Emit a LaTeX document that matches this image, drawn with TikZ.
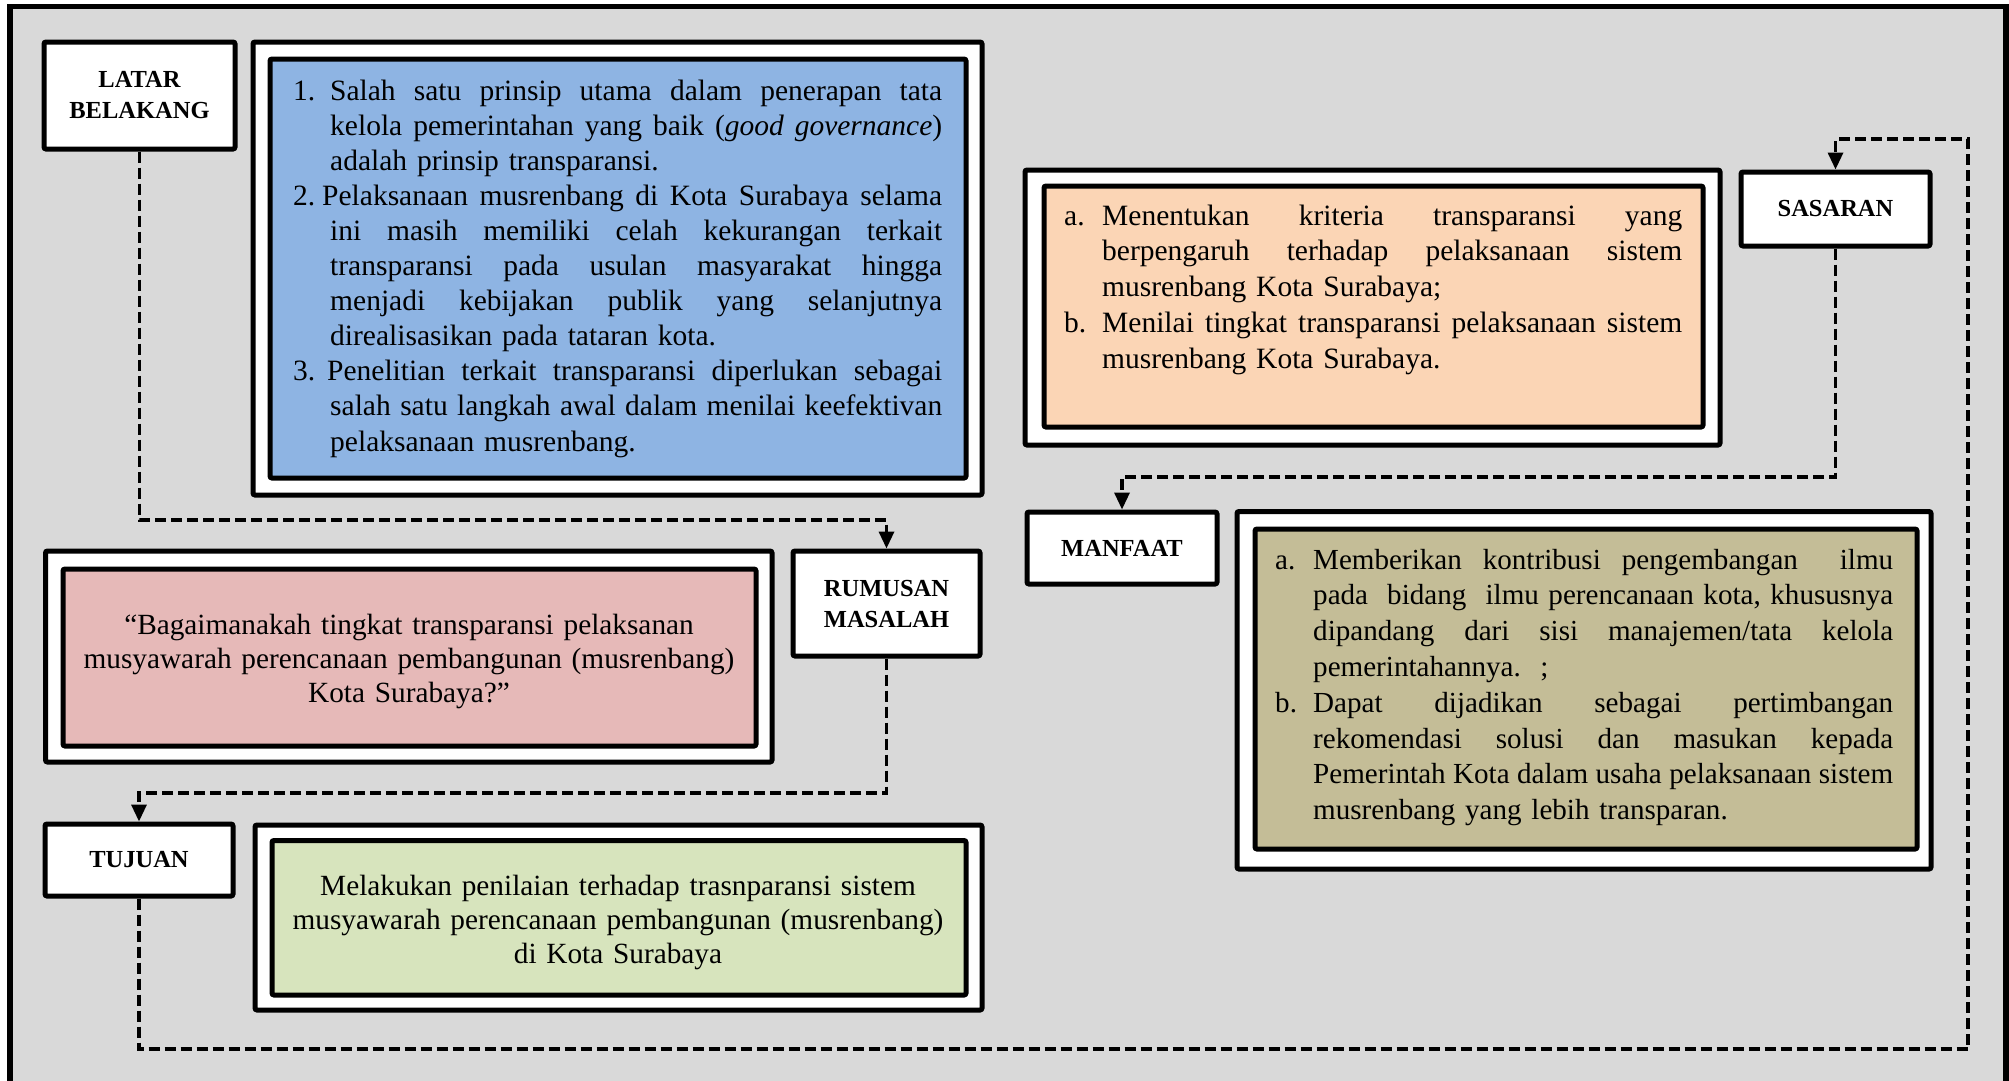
\documentclass[tikz,border=0pt]{standalone}
\usepackage{fontspec}
\setmainfont{Liberation Serif}
\usetikzlibrary{arrows.meta}

\definecolor{panelgray}{HTML}{D9D9D9}
\definecolor{fillblue}{HTML}{8EB4E3}
\definecolor{fillorange}{HTML}{FBD5B5}
\definecolor{fillpink}{HTML}{E6B9B8}
\definecolor{fillgreen}{HTML}{D7E4BD}
\definecolor{fillkhaki}{HTML}{C4BD97}

% width of one row of a list block
\newlength\roww
% a row of text spread to the given width (stretchable word spaces)
\newcommand\spreadrow[2]{\hbox to #1{\frenchspacing\spaceskip=.25em plus 1fil\relax #2}}
% justified line with a left indent of #1
\newcommand\jline[2]{\noindent\hspace*{#1}\spreadrow{\dimexpr\roww-#1\relax}{#2}\par}
% last (natural width) line of an item
\newcommand\lline[2]{\noindent\hspace*{#1}#2\par}
% first line of an item: label box of width #1, label #2, justified text #3
\newcommand\iline[3]{\noindent\hbox to #1{#2\hss}\spreadrow{\dimexpr\roww-#1\relax}{#3}\par}

\begin{document}
\begin{tikzpicture}[x=1pt,y=-1pt,
  lbl/.style={draw, line width=5pt, fill=white, rounded corners=2pt, inner sep=0pt,
    align=center, font=\bfseries\fontsize{24.5}{31}\selectfont},
  outerbox/.style={draw, line width=5pt, fill=white, rounded corners=2pt,
    inner sep=0pt, outer sep=0pt, anchor=north west},
  innerbox/.style={draw, line width=5pt, rounded corners=2pt,
    inner sep=0pt, outer sep=0pt, anchor=north west},
  listtext/.style={inner sep=0pt, anchor=base west, align=left},
  centertext/.style={inner sep=0pt, anchor=base, align=center,
    font=\fontsize{29.3}{34}\selectfont},
  flow/.style={line width=3.3pt, dash pattern=on 11pt off 5pt,
    -{Triangle[length=17pt,width=15pt]}}
]
\useasboundingbox (0,0) rectangle (2009,1080);

% panel
\begin{scope}
  \clip (0,0) rectangle (2009,1080);
  \draw[line width=5.5pt, fill=panelgray] (10,6.5) rectangle (2006,1110);
\end{scope}

% ---------- LATAR BELAKANG ----------
\node[lbl, minimum width=191pt, minimum height=107pt] (latar) at (139.5,95.5) {LATAR\\BELAKANG};
\node[outerbox, minimum width=729pt, minimum height=453pt, fill=white] (bluebox) at (253,42) {};
\node[innerbox, minimum width=696pt, minimum height=419pt, fill=fillblue] (blueinner) at (270,59) {};
\node[listtext, text width=649pt, font=\fontsize{29.5}{35.1}\selectfont] (bluetext) at (293,100) {%
  \setlength\roww{649pt}%
  \iline{37pt}{1.}{Salah satu prinsip utama dalam penerapan tata}
  \jline{37pt}{kelola pemerintahan yang baik (\textit{good governance})}
  \lline{37pt}{adalah prinsip transparansi.}
  \iline{29pt}{2.}{Pelaksanaan musrenbang di Kota Surabaya selama}
  \jline{37pt}{ini masih memiliki celah kekurangan terkait}
  \jline{37pt}{transparansi pada usulan masyarakat hingga}
  \jline{37pt}{menjadi kebijakan publik yang selanjutnya}
  \lline{37pt}{direalisasikan pada tataran kota.}
  \iline{34pt}{3.}{Penelitian terkait transparansi diperlukan sebagai}
  \jline{37pt}{salah satu langkah awal dalam menilai keefektivan}
  \lline{37pt}{pelaksanaan musrenbang.}};

% ---------- RUMUSAN MASALAH ----------
\node[lbl, minimum width=187pt, minimum height=105pt] (rumusan) at (886.5,603.5) {RUMUSAN\\MASALAH};
\node[outerbox, minimum width=726.5pt, minimum height=211pt] (pinkbox) at (45.5,551) {};
\node[innerbox, minimum width=693pt, minimum height=177pt, fill=fillpink] (pinkinner) at (63,569) {};
\node[centertext, text width=690pt] (pinktext) at (409,634) {%
  “Bagaimanakah tingkat transparansi pelaksanan\\
  musyawarah perencanaan pembangunan (musrenbang)\\
  Kota Surabaya?”};

% ---------- TUJUAN ----------
\node[lbl, minimum width=188pt, minimum height=72pt] (tujuan) at (139,860) {TUJUAN};
\node[outerbox, minimum width=727pt, minimum height=185pt] (greenbox) at (255,825) {};
\node[innerbox, minimum width=694pt, minimum height=154.5pt, fill=fillgreen] (greeninner) at (272,840.5) {};
\node[centertext, text width=690pt] (greentext) at (618,895) {%
  Melakukan penilaian terhadap trasnparansi sistem\\
  musyawarah perencanaan pembangunan (musrenbang)\\
  di Kota Surabaya};

% ---------- SASARAN ----------
\node[lbl, minimum width=189pt, minimum height=74pt] (sasaran) at (1835.5,209) {SASARAN};
\node[outerbox, minimum width=695pt, minimum height=275pt] (orangebox) at (1025,170) {};
\node[innerbox, minimum width=659pt, minimum height=241pt, fill=fillorange] (orangeinner) at (1044,186) {};
\node[listtext, text width=618pt, font=\fontsize{29.5}{35.8}\selectfont] (orangetext) at (1064,225) {%
  \setlength\roww{618pt}%
  \iline{38pt}{a.}{Menentukan kriteria transparansi yang}
  \jline{38pt}{berpengaruh terhadap pelaksanaan sistem}
  \lline{38pt}{musrenbang Kota Surabaya;}
  \iline{38pt}{b.}{Menilai tingkat transparansi pelaksanaan sistem}
  \lline{38pt}{musrenbang Kota Surabaya.}};

% ---------- MANFAAT ----------
\node[lbl, minimum width=190pt, minimum height=72pt] (manfaat) at (1122,548) {MANFAAT};
\node[outerbox, minimum width=694pt, minimum height=357.5pt] (khakibox) at (1237,511.5) {};
\node[innerbox, minimum width=662pt, minimum height=320pt, fill=fillkhaki] (khakiinner) at (1255,529) {};
\node[listtext, text width=618pt, font=\fontsize{29.1}{35.8}\selectfont] (khakitext) at (1275,569) {%
  \setlength\roww{618pt}%
  \iline{38pt}{a.}{Memberikan kontribusi pengembangan\ \ ilmu}
  \jline{38pt}{pada\ \ bidang\ \ ilmu perencanaan kota, khususnya}
  \jline{38pt}{dipandang dari sisi manajemen/tata kelola}
  \lline{38pt}{pemerintahannya.\ \ ;}
  \iline{38pt}{b.}{Dapat dijadikan sebagai pertimbangan}
  \jline{38pt}{rekomendasi solusi dan masukan kepada}
  \jline{38pt}{Pemerintah Kota dalam usaha pelaksanaan sistem}
  \lline{38pt}{musrenbang yang lebih transparan.}};

% ---------- connectors ----------
\coordinate (bendA) at (0,520);
\coordinate (bendB) at (0,793);
\coordinate (loopcorner) at (1968,1049);
\coordinate (bendC) at (0,139);
\coordinate (bendD) at (0,477);

\draw[flow] (latar.south) |- (bendA -| rumusan.north) -- (rumusan.north);
\draw[flow] (rumusan.south) |- (bendB -| tujuan.north) -- (tujuan.north);
\draw[flow] (tujuan.south) |- (loopcorner) |- (bendC -| sasaran.north) -- (sasaran.north);
\draw[flow] (sasaran.south) |- (bendD -| manfaat.north) -- (manfaat.north);
\end{tikzpicture}
\end{document}
